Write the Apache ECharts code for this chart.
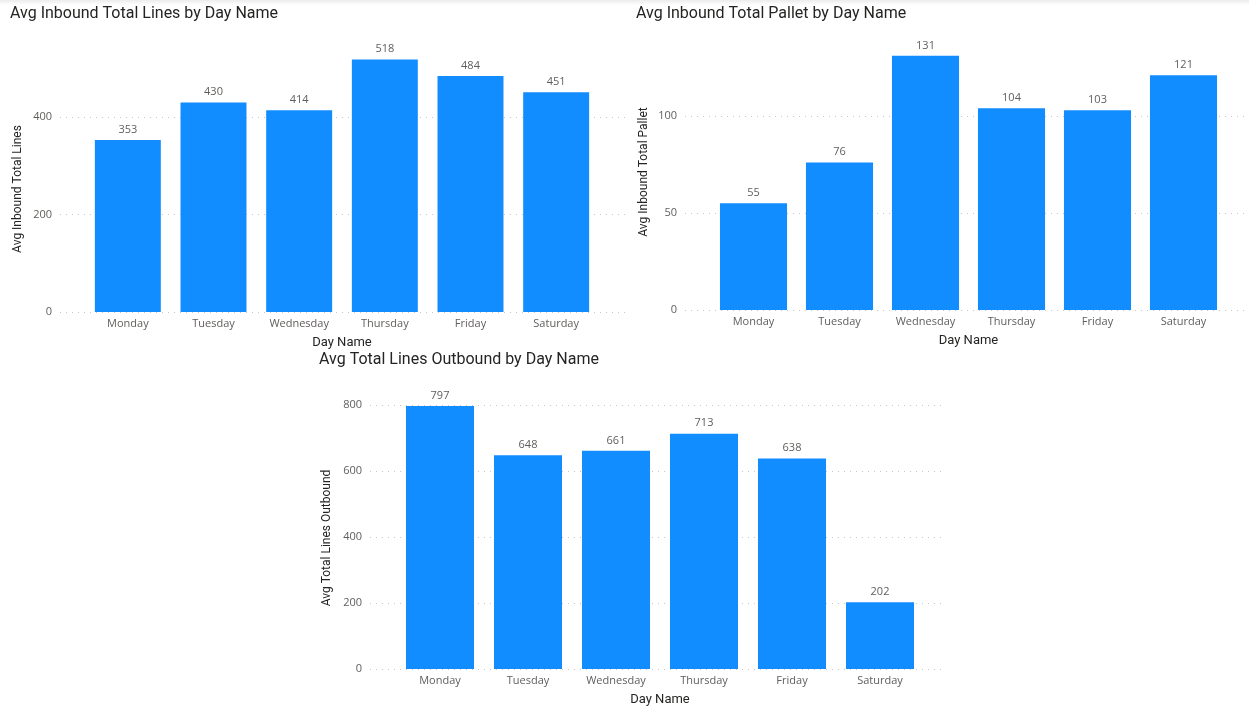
<!DOCTYPE html>
<html>
<head>
<meta charset="utf-8">
<script src="https://cdn.jsdelivr.net/npm/echarts@6/dist/echarts.min.js"></script>
<style>
  html, body { margin: 0; padding: 0; background: #ffffff; }
  #main { width: 1249px; height: 710px; }
</style>
</head>
<body>
<div id="main"></div>
<script>
// Day categories shared by all three charts
const days = ['Monday', 'Tuesday', 'Wednesday', 'Thursday', 'Friday', 'Saturday'];

// Average values per day
const inboundLines = [353, 430, 414, 518, 484, 451];
const inboundPallet = [55, 76, 131, 104, 103, 121];
const outboundLines = [797, 648, 661, 713, 638, 202];

// Value-axis tick labels
const inboundLinesTicks = [0, 200, 400];
const inboundPalletTicks = [0, 50, 100];
const outboundLinesTicks = [0, 200, 400, 600, 800];

const BAR = '#118DFF';
const TITLE_FONT = 'Roboto, "Noto Sans", sans-serif';
const LABEL_FONT = '"Open Sans", "Noto Sans", sans-serif';

// Layout of each panel (pixel positions)
const panels = [
  {
    title: 'Avg Inbound Total Lines by Day Name', titleX: 10, titleY: 6,
    yName: 'Avg Inbound Total Lines', yNameX: 18, yNameY: 189,
    values: inboundLines, ticks: inboundLinesTicks,
    zeroY: 312, topTickY: 117, gridLeft: 60, gridRight: 630,
    barLeft: 85, barRight: 599, barMax: 560, gap: '23%'
  },
  {
    title: 'Avg Inbound Total Pallet by Day Name', titleX: 636, titleY: 6,
    yName: 'Avg Inbound Total Pallet', yNameX: 644, yNameY: 172,
    values: inboundPallet, ticks: inboundPalletTicks,
    zeroY: 310, topTickY: 116, gridLeft: 685, gridRight: 1247,
    barLeft: 710.5, barRight: 1226.5, barMax: 140, gap: '22%'
  },
  {
    title: 'Avg Total Lines Outbound by Day Name', titleX: 319, titleY: 352,
    yName: 'Avg Total Lines Outbound', yNameX: 327, yNameY: 538,
    values: outboundLines, ticks: outboundLinesTicks,
    zeroY: 669, topTickY: 405, gridLeft: 370, gridRight: 945,
    barLeft: 396, barRight: 924, barMax: 840, gap: '22.7%'
  }
];

const option = {
  animation: false,
  backgroundColor: '#ffffff',
  title: [],
  grid: [],
  xAxis: [],
  yAxis: [],
  series: [],
  graphic: [
    {
      type: 'rect', left: 0, top: 0, z: 0,
      shape: { width: 1249, height: 5 },
      style: {
        fill: new echarts.graphic.LinearGradient(0, 0, 0, 1, [
          { offset: 0, color: '#ececec' },
          { offset: 1, color: '#ffffff' }
        ])
      }
    }
  ]
};

panels.forEach((p) => {
  const topTick = p.ticks[p.ticks.length - 1];
  const pxPerUnit = (p.zeroY - p.topTickY) / topTick;
  const barTop = p.zeroY - p.barMax * pxPerUnit;

  option.title.push({
    text: p.title, left: p.titleX, top: p.titleY, padding: 0,
    textStyle: { fontFamily: TITLE_FONT, fontSize: 16, fontWeight: 'normal', color: '#252423' }
  });

  option.graphic.push({
    type: 'text', x: p.yNameX, y: p.yNameY, rotation: Math.PI / 2,
    style: {
      text: p.yName, fontFamily: TITLE_FONT, fontSize: 12, fill: '#252423',
      align: 'center', verticalAlign: 'middle'
    }
  });

  // Background grid: value labels and dotted gridlines
  option.grid.push({
    left: p.gridLeft, width: p.gridRight - p.gridLeft,
    top: p.topTickY, height: p.zeroY - p.topTickY
  });
  const gBack = option.grid.length - 1;
  option.xAxis.push({ gridIndex: gBack, type: 'value', show: false, min: 0, max: 1 });
  option.yAxis.push({
    gridIndex: gBack, type: 'value', min: 0, max: topTick,
    interval: p.ticks[1] - p.ticks[0],
    axisLine: { show: false }, axisTick: { show: false },
    axisLabel: { margin: 8, fontFamily: LABEL_FONT, fontSize: 11, color: '#605E5C' },
    splitLine: { lineStyle: { color: '#c8c8c8', width: 1, type: [1, 5] } }
  });

  // Bar grid: categories and bars on the same vertical scale
  option.grid.push({
    left: p.barLeft, width: p.barRight - p.barLeft,
    top: barTop, height: p.zeroY - barTop
  });
  const gBar = option.grid.length - 1;
  option.xAxis.push({
    gridIndex: gBar, type: 'category', data: days,
    axisLine: { show: false }, axisTick: { show: false },
    axisLabel: { margin: 6, fontFamily: LABEL_FONT, fontSize: 11, color: '#605E5C' },
    name: 'Day Name', nameLocation: 'middle', nameGap: 24,
    nameTextStyle: { fontFamily: TITLE_FONT, fontSize: 13, color: '#252423' }
  });
  option.yAxis.push({ gridIndex: gBar, type: 'value', min: 0, max: p.barMax, show: false });

  option.series.push({
    type: 'bar', xAxisIndex: option.xAxis.length - 1, yAxisIndex: option.yAxis.length - 1,
    data: p.values, barCategoryGap: p.gap,
    itemStyle: { color: BAR },
    label: {
      show: true, position: 'top', distance: 5,
      fontFamily: LABEL_FONT, fontSize: 11, color: '#605E5C'
    }
  });
});

const chart = echarts.init(document.getElementById('main'), null, { renderer: 'canvas' });
chart.setOption(option);
</script>
</body>
</html>
